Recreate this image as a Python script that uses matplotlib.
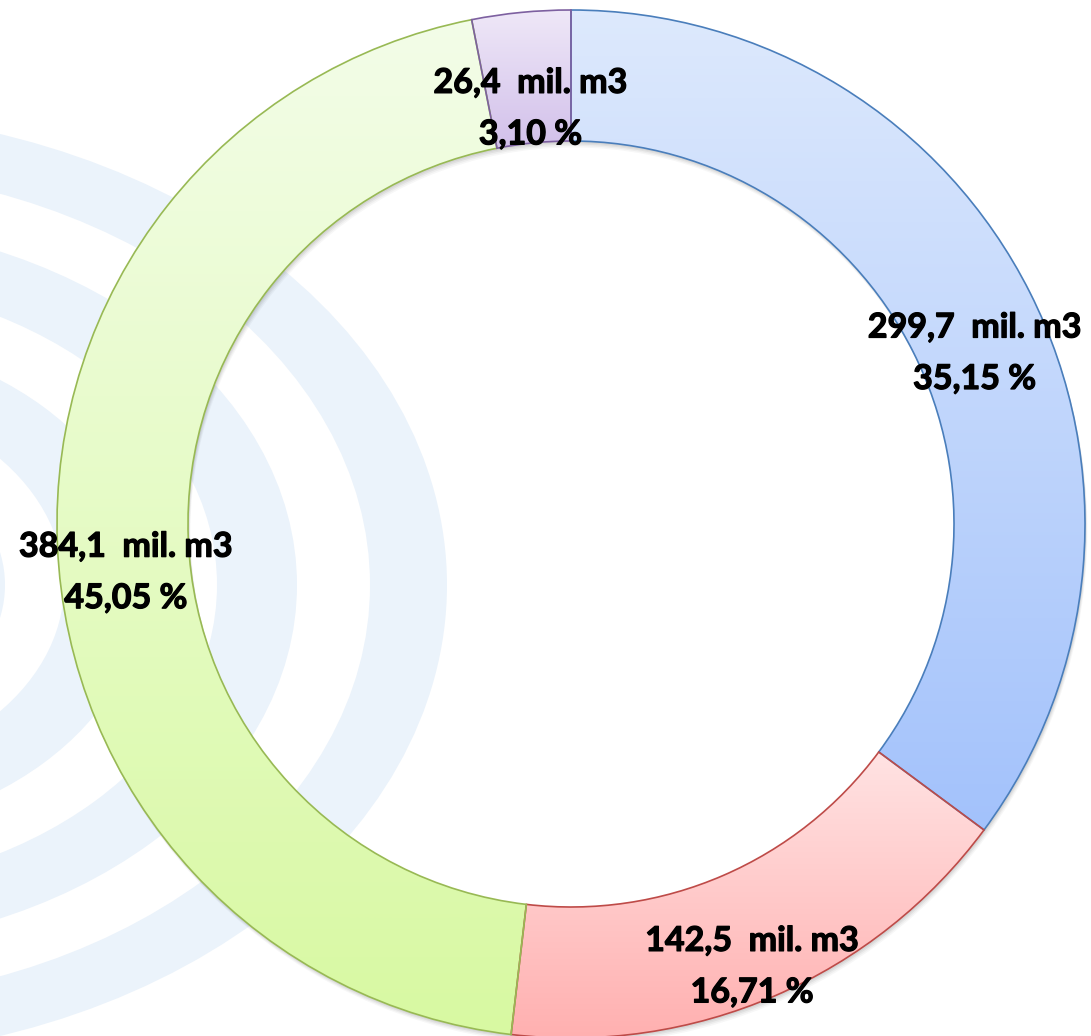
import numpy as np
import matplotlib.pyplot as plt
import matplotlib.patheffects as pe
from matplotlib.patches import Ellipse, Wedge
from matplotlib.colors import LinearSegmentedColormap

# data: volumes (mil. m3), clockwise from 12 o'clock
values = [299.7, 142.5, 384.1, 26.4]
unit = 'mil. m3'
edge_colors = ['#4A7EBB', '#BE4B48', '#98B954', '#7D60A0']
top_colors = ['#DDE9FD', '#FFE3E3', '#F3FDE8', '#EFE8F8']
bottom_colors = ['#A3C2FB', '#FFB0B0', '#D8F9A2', '#D2C0EA']

W, H = 1091, 1036
fig = plt.figure(figsize=(W / 100, H / 100), dpi=100)
ax = fig.add_axes([0, 0, 1, 1])

# faint background arcs from the slide
ring_center = (-200, H - 585)
ring_bands = [(570, 647), (417, 497), (264, 344), (125, 205)]
for r_in, r_out in ring_bands:
    ax.add_patch(Ellipse(ring_center, 2 * r_out, 2 * r_out * 0.733, color='#EBF3FB', lw=0, zorder=0))
    ax.add_patch(Ellipse(ring_center, 2 * r_in, 2 * r_in * 0.733, color='white', lw=0, zorder=0))

cx, cy, R, ring_w = 571, H - 524, 514, 131
total = sum(values)


def fmt(pct):
    v = pct * total / 100
    return f'{v:.1f}'.replace('.', ',') + f'  {unit}\n' + f'{pct:.2f}'.replace('.', ',') + ' %'


# soft shadow under the ring
for i, a in enumerate([0.05, 0.05, 0.04, 0.03]):
    ax.add_patch(Wedge((cx + 1 + i * 0.5, cy - 2 - i * 1.5), R, 0, 360, width=ring_w,
                       color='black', alpha=a, lw=0, zorder=0.5))

wedges, texts, autotexts = ax.pie(
    values, radius=R, center=(cx, cy), startangle=90, counterclock=False,
    autopct=fmt, pctdistance=(R - ring_w / 2) / R,
    wedgeprops=dict(width=ring_w, linewidth=1.2),
    textprops=dict(fontfamily=['Lato', 'DejaVu Sans'], fontweight='bold', fontsize=24.5,
                   color='black', linespacing=1.75),
)

grad = np.linspace(1, 0, 256)[:, None]
for w, ec, c0, c1 in zip(wedges, edge_colors, top_colors, bottom_colors):
    w.set_facecolor('none')
    w.set_edgecolor(ec)
    w.set_zorder(2)
    bb = w.get_path().get_extents()
    cmap = LinearSegmentedColormap.from_list('g', [c0, c1])
    im = ax.imshow(grad, extent=[bb.x0, bb.x1, bb.y0, bb.y1], origin='lower', cmap=cmap,
                   aspect='auto', zorder=1, interpolation='bicubic')
    im.set_clip_path(w)

for t in autotexts:
    x, y = t.get_position()
    t.set_position((x + 3, y - 31))
    t.set_zorder(3)
    t.set_path_effects([pe.withStroke(linewidth=0.9, foreground='black')])

ax.set_xlim(0, W)
ax.set_ylim(0, H)
ax.set_aspect('equal')
ax.axis('off')

fig.savefig('out.png', dpi=100, facecolor='white')
